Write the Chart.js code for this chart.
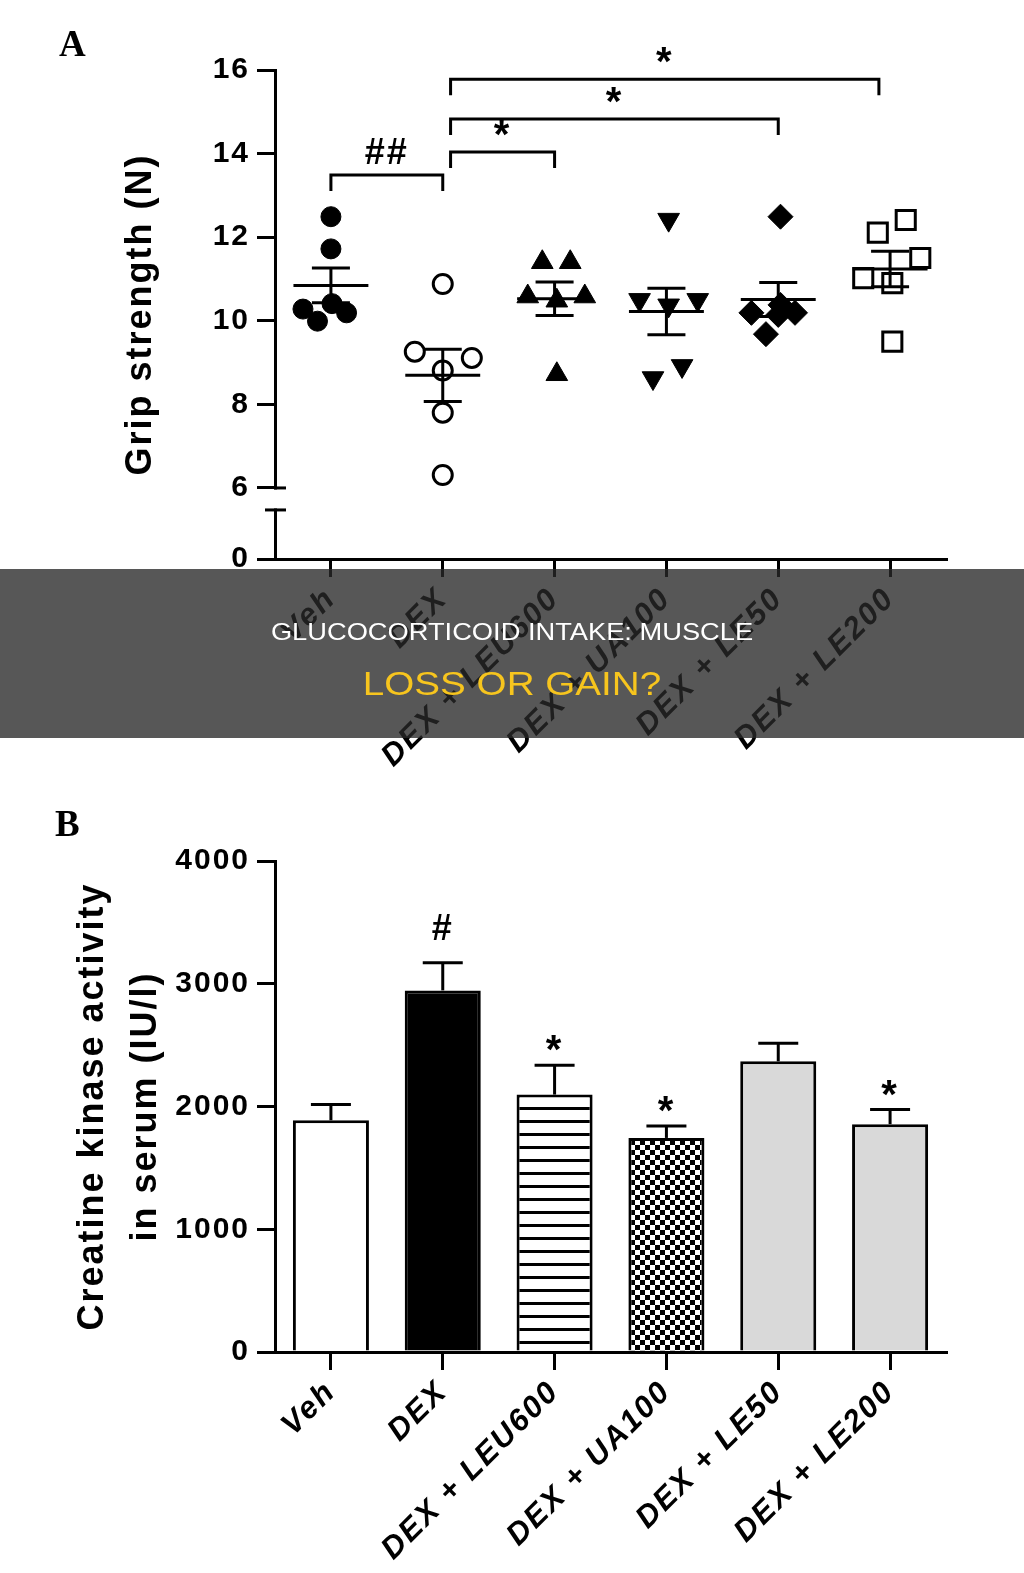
<!DOCTYPE html>
<html>
<head>
<meta charset="utf-8">
<script src="https://cdn.jsdelivr.net/npm/chart.js@4.4.1/dist/chart.umd.min.js"></script>
<style>
html,body{margin:0;padding:0;background:#fff;}
body{width:1024px;height:1573px;position:relative;overflow:hidden;}
#wrapA{position:absolute;left:0;top:0;width:1024px;height:780px;}
#wrapB{position:absolute;left:0;top:780px;width:1024px;height:793px;}
.panel{position:absolute;font-family:'Liberation Serif','Times New Roman',serif;font-weight:bold;font-size:37px;line-height:37px;color:#000;}
#banner{position:absolute;left:0;top:569px;width:1024px;height:169px;background:rgba(40,40,40,0.78);}
.bt{position:absolute;left:0;width:1024px;text-align:center;font-family:'Liberation Sans',Arial,sans-serif;font-weight:400;white-space:nowrap;transform:scaleX(1.136);transform-origin:512px 0;}
#t1{top:620px;font-size:24px;line-height:24px;color:#fff;}
#t2{top:666px;font-size:34px;line-height:34px;color:#f7c51e;}
</style>
</head>
<body>
<div id="wrapA"><canvas id="cA" width="1024" height="780"></canvas></div>
<div id="wrapB"><canvas id="cB" width="1024" height="793"></canvas></div>
<div class="panel" style="left:59px;top:25px;">A</div>
<div class="panel" style="left:55px;top:805px;">B</div>
<div id="banner"></div>
<div class="bt" id="t1">GLUCOCORTICOID INTAKE: MUSCLE</div>
<div class="bt" id="t2">LOSS OR GAIN?</div>
<script>
// ---------- data ----------
const categories = ['Veh', 'DEX', 'DEX + LEU600', 'DEX + UA100', 'DEX + LE50', 'DEX + LE200'];

// Panel A: grip strength (N), individual animals
const gripVeh    = [12.49, 11.72, 10.41, 10.28, 10.19, 9.99];
const gripDEX    = [10.88, 9.26, 9.11, 8.81, 7.80, 6.31];
const gripLEU600 = [11.40, 11.40, 10.58, 10.58, 10.48, 8.72];
const gripUA100  = [12.42, 10.50, 10.50, 10.37, 8.92, 8.63];
const gripLE50   = [12.49, 10.19, 10.38, 10.14, 10.19, 9.68];
const gripLE200  = [12.11, 12.41, 11.50, 11.02, 10.90, 9.50];
const gripTicks  = [0, 6, 8, 10, 12, 14, 16];
const gripSig = [
  {from: 'Veh', to: 'DEX', text: '##'},
  {from: 'DEX', to: 'DEX + LEU600', text: '*'},
  {from: 'DEX', to: 'DEX + LE50', text: '*'},
  {from: 'DEX', to: 'DEX + LE200', text: '*'}
];

// Panel B: creatine kinase activity (IU/l), mean and SEM
const ckMean  = [1888, 2946, 2097, 1744, 2368, 1856];
const ckSem   = [128, 225, 239, 98, 147, 119];
const ckTicks = [0, 1000, 2000, 3000, 4000];
const ckSig   = ['', '#', '*', '*', '', '*'];

// ---------- layout / style (not data) ----------
const FONT = "'Liberation Sans', Arial, sans-serif";
const BREAK_MIN = 4.3;        // axis value where the lower "0" segment sits
const BREAK_GAP_PX = 22;
// horizontal scatter offsets in category units (swarm layout)
const swarmOffsets = [
  [0, 0, 0.01, -0.25, 0.14, -0.12],
  [0, -0.25, 0.26, 0, 0, 0],
  [-0.11, 0.14, -0.24, 0.27, 0.02, 0.02],
  [0.02, -0.24, 0.28, 0.02, 0.14, -0.12],
  [0.02, -0.24, 0.02, 0, 0.15, -0.11],
  [-0.11, 0.14, 0.27, -0.24, 0.02, 0.02]
];
const bracketLayout = [
  {level: 13.49, dFrom: 0, dTo: 0},
  {level: 14.04, dFrom: 0.07, dTo: 0},
  {level: 14.83, dFrom: 0.07, dTo: 0},
  {level: 15.78, dFrom: 0.07, dTo: -0.1}
];
const markerStyles = [
  {pointStyle: 'circle', r: 10, fill: '#000', bw: 1, rot: 0},
  {pointStyle: 'circle', r: 9.5, fill: 'rgba(0,0,0,0)', bw: 3, rot: 0},
  {pointStyle: 'triangle', r: 12.5, fill: '#000', bw: 1, rot: 0},
  {pointStyle: 'triangle', r: 12.5, fill: '#000', bw: 1, rot: 180},
  {pointStyle: 'rectRot', r: 12.5, fill: '#000', bw: 1, rot: 0},
  {pointStyle: 'rect', r: 13.5, fill: 'rgba(0,0,0,0)', bw: 3, rot: 0}
];

Chart.defaults.font.family = FONT;
Chart.defaults.color = '#000';

function mean(a) { return a.reduce((s, v) => s + v, 0) / a.length; }
function sem(a) {
  const m = mean(a);
  const v = a.reduce((s, x) => s + (x - m) * (x - m), 0) / (a.length - 1);
  return Math.sqrt(v) / Math.sqrt(a.length);
}
function line(ctx, x1, y1, x2, y2) { ctx.beginPath(); ctx.moveTo(x1, y1); ctx.lineTo(x2, y2); ctx.stroke(); }

const spacingPlugin = {
  id: 'spacing',
  beforeDraw(chart) { chart.ctx.letterSpacing = '2px'; }
};

const tickFont = {size: 30, weight: 'bold', family: FONT};
const xTickFont = {size: 31, weight: 'bold', style: 'italic', family: FONT};
const titleFont = {size: 36, weight: 'bold', family: FONT, lineHeight: 1.48};

// ---------- Panel A ----------
const seriesA = [gripVeh, gripDEX, gripLEU600, gripUA100, gripLE50, gripLE200];

const gripPlugin = {
  id: 'gripExtras',
  afterDatasetsDraw(chart) {
    const ctx = chart.ctx, xs = chart.scales.x, ys = chart.scales.y;
    ctx.save();
    ctx.strokeStyle = '#000';
    ctx.lineWidth = 3;
    seriesA.forEach((vals, i) => {
      const m = mean(vals), s = sem(vals);
      const xc = xs.getPixelForValue(i);
      const yM = ys.getPixelForValue(m);
      const yH = ys.getPixelForValue(m + s), yL = ys.getPixelForValue(m - s);
      line(ctx, xs.getPixelForValue(i - 0.335), yM, xs.getPixelForValue(i + 0.335), yM);
      line(ctx, xc, yH, xc, yL);
      line(ctx, xs.getPixelForValue(i - 0.17), yH, xs.getPixelForValue(i + 0.17), yH);
      line(ctx, xs.getPixelForValue(i - 0.17), yL, xs.getPixelForValue(i + 0.17), yL);
    });
    // significance brackets
    gripSig.forEach((b, k) => {
      const L = bracketLayout[k];
      const x1 = xs.getPixelForValue(categories.indexOf(b.from) + L.dFrom);
      const x2 = xs.getPixelForValue(categories.indexOf(b.to) + L.dTo);
      const yb = ys.getPixelForValue(L.level);
      ctx.beginPath();
      ctx.moveTo(x1, yb + 16); ctx.lineTo(x1, yb); ctx.lineTo(x2, yb); ctx.lineTo(x2, yb + 16);
      ctx.stroke();
      ctx.fillStyle = '#000';
      ctx.textAlign = 'center';
      ctx.textBaseline = 'alphabetic';
      if (b.text === '*') {
        ctx.font = 'bold 40px ' + FONT;
        ctx.fillText(b.text, (x1 + x2) / 2, yb - 4);
      } else {
        ctx.font = 'bold 36px ' + FONT;
        ctx.fillText(b.text, (x1 + x2) / 2, yb - 11);
      }
    });
    ctx.restore();
  },
  afterDraw(chart) {
    // axis break between the "0" segment and the 6-16 segment
    const ctx = chart.ctx, ys = chart.scales.y;
    const ax = chart.chartArea.left;
    const y6 = ys.getPixelForValue(6);
    const yb = y6 + BREAK_GAP_PX;
    ctx.save();
    ctx.fillStyle = '#fff';
    ctx.fillRect(ax - 3, y6 + 1.5, 6, BREAK_GAP_PX - 3);
    ctx.strokeStyle = '#000';
    ctx.lineWidth = 3;
    line(ctx, ax - 1, y6, ax + 11, y6);
    line(ctx, ax - 10, yb, ax + 11, yb);
    ctx.restore();
  }
};

new Chart(document.getElementById('cA'), {
  type: 'scatter',
  data: {
    datasets: seriesA.map((vals, i) => ({
      label: categories[i],
      data: vals.map((v, k) => ({x: i + swarmOffsets[i][k], y: v})),
      pointStyle: markerStyles[i].pointStyle,
      pointRadius: markerStyles[i].r,
      pointHoverRadius: markerStyles[i].r,
      pointRotation: markerStyles[i].rot,
      pointBackgroundColor: markerStyles[i].fill,
      pointBorderColor: '#000',
      pointBorderWidth: markerStyles[i].bw,
      clip: false
    }))
  },
  options: {
    responsive: false,
    animation: false,
    devicePixelRatio: 1,
    events: [],
    layout: {padding: {left: 0, right: 78, top: 70, bottom: 0}},
    plugins: {legend: {display: false}, tooltip: {enabled: false}},
    scales: {
      x: {
        type: 'linear', min: -0.5, max: 5.5,
        afterBuildTicks: s => { s.ticks = categories.map((c, i) => ({value: i})); },
        afterFit: s => { s.height = 221; },
        ticks: {callback: v => categories[v], autoSkip: false, minRotation: 45, maxRotation: 45,
                font: xTickFont, color: '#000', padding: 4},
        grid: {drawOnChartArea: false, tickLength: 18, lineWidth: 3, color: '#000'},
        border: {color: '#000', width: 3}
      },
      y: {
        min: BREAK_MIN, max: 16,
        afterBuildTicks: s => { s.ticks = gripTicks.map(v => ({value: v === 0 ? BREAK_MIN : v})); },
        afterFit: s => { s.width = 275; },
        ticks: {callback: v => (v === BREAK_MIN ? '0' : String(v)), font: tickFont, color: '#000', padding: 7},
        grid: {drawOnChartArea: false, tickLength: 18, lineWidth: 3, color: '#000'},
        border: {color: '#000', width: 3},
        title: {display: true, text: 'Grip strength (N)', font: titleFont, color: '#000', padding: {top: 114, bottom: 0}}
      }
    }
  },
  plugins: [spacingPlugin, gripPlugin]
});

// ---------- Panel B ----------
const ctxB = document.getElementById('cB').getContext('2d');
function makePattern(w, h, draw) {
  const c = document.createElement('canvas');
  c.width = w; c.height = h;
  const g = c.getContext('2d');
  draw(g);
  return ctxB.createPattern(c, 'repeat');
}
const stripes = makePattern(8, 13, g => {
  g.fillStyle = '#fff'; g.fillRect(0, 0, 8, 13);
  g.fillStyle = '#000'; g.fillRect(0, 2, 8, 3);
});
const checker = makePattern(10, 10, g => {
  g.fillStyle = '#fff'; g.fillRect(0, 0, 10, 10);
  g.fillStyle = '#000'; g.fillRect(0, 0, 5, 5); g.fillRect(5, 5, 5, 5);
});
const barFills = ['#ffffff', '#000000', stripes, checker, '#d9d9d9', '#d9d9d9'];

const ckPlugin = {
  id: 'ckExtras',
  afterDatasetsDraw(chart) {
    const ctx = chart.ctx, xs = chart.scales.x, ys = chart.scales.y;
    ctx.save();
    ctx.strokeStyle = '#000';
    ctx.lineWidth = 3;
    ckMean.forEach((m, i) => {
      const xc = xs.getPixelForValue(i);
      const yT = ys.getPixelForValue(m);
      const yE = ys.getPixelForValue(m + ckSem[i]);
      line(ctx, xc, yT, xc, yE);
      line(ctx, xc - 20, yE, xc + 20, yE);
      if (ckSig[i]) {
        ctx.fillStyle = '#000';
        ctx.textAlign = 'center';
        ctx.textBaseline = 'alphabetic';
        if (ckSig[i] === '#') {
          ctx.font = 'bold 36px ' + FONT;
          ctx.fillText('#', xc, yE - 23);
        } else {
          ctx.font = 'bold 40px ' + FONT;
          ctx.fillText('*', xc, yE - 2);
        }
      }
    });
    ctx.restore();
  }
};

new Chart(ctxB, {
  type: 'bar',
  data: {
    labels: categories,
    datasets: [{
      label: 'Creatine kinase',
      data: ckMean,
      backgroundColor: barFills,
      borderColor: '#000',
      borderWidth: 3,
      barPercentage: 0.68,
      categoryPercentage: 1
    }]
  },
  options: {
    responsive: false,
    animation: false,
    devicePixelRatio: 1,
    events: [],
    layout: {padding: {left: 0, right: 78, top: 81, bottom: 0}},
    plugins: {legend: {display: false}, tooltip: {enabled: false}},
    scales: {
      x: {
        offset: true,
        afterFit: s => { s.height = 221; },
        ticks: {autoSkip: false, minRotation: 45, maxRotation: 45, font: xTickFont, color: '#000', padding: 4},
        grid: {offset: false, drawOnChartArea: false, tickLength: 18, lineWidth: 3, color: '#000'},
        border: {color: '#000', width: 3}
      },
      y: {
        min: 0, max: 4000,
        afterBuildTicks: s => { s.ticks = ckTicks.map(v => ({value: v})); },
        afterFit: s => { s.width = 275; },
        ticks: {callback: v => String(v), font: tickFont, color: '#000', padding: 7},
        grid: {drawOnChartArea: false, tickLength: 18, lineWidth: 3, color: '#000'},
        border: {color: '#000', width: 3},
        title: {display: true, text: ['Creatine kinase activity', 'in serum (IU/l)'], font: titleFont, color: '#000', padding: {top: 66, bottom: 0}}
      }
    }
  },
  plugins: [spacingPlugin, ckPlugin]
});
</script>
</body>
</html>
